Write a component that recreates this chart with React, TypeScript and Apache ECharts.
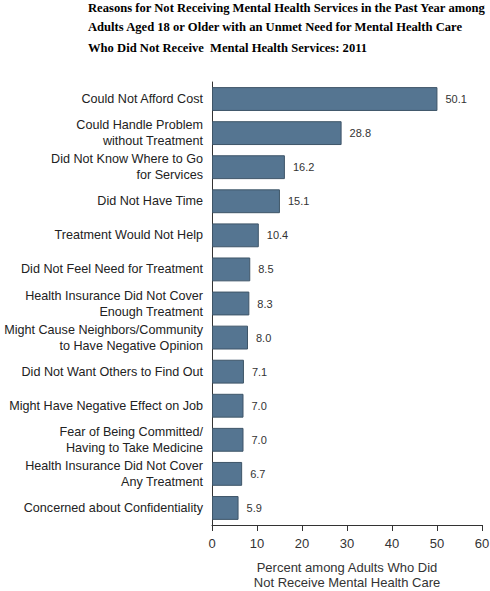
import { useEffect, useRef } from 'react';
import * as echarts from 'echarts';

const titleLines = [
  'Reasons for Not Receiving Mental Health Services in the Past Year among',
  'Adults Aged 18 or Older with an Unmet Need for Mental Health Care',
  'Who Did Not Receive  Mental Health Services: 2011',
];

const reasons = [
  'Could Not Afford Cost',
  'Could Handle Problem\nwithout Treatment',
  'Did Not Know Where to Go\nfor Services',
  'Did Not Have Time',
  'Treatment Would Not Help',
  'Did Not Feel Need for Treatment',
  'Health Insurance Did Not Cover\nEnough Treatment',
  'Might Cause Neighbors/Community\nto Have Negative Opinion',
  'Did Not Want Others to Find Out',
  'Might Have Negative Effect on Job',
  'Fear of Being Committed/\nHaving to Take Medicine',
  'Health Insurance Did Not Cover\nAny Treatment',
  'Concerned about Confidentiality',
];

const percents = [50.1, 28.8, 16.2, 15.1, 10.4, 8.5, 8.3, 8.0, 7.1, 7.0, 7.0, 6.7, 5.9];

const axisTitle = 'Percent among Adults Who Did\nNot Receive Mental Health Care';

const titleY = [8, 27, 48];

export default function App() {
  const ref = useRef<HTMLDivElement>(null);

  useEffect(() => {
    if (!ref.current) return;
    const chart = echarts.init(ref.current, undefined, { renderer: 'svg' });

    chart.setOption({
      animation: false,
      backgroundColor: '#fff',
      graphic: titleLines.map((t, i) => ({
        type: 'text',
        left: 88,
        top: titleY[i] - 7,
        style: {
          text: t,
          font: 'bold 12.6px "Liberation Serif", "Times New Roman", serif',
          fill: '#000',
        },
      })),
      grid: { left: 212, right: 8, top: 82, bottom: 66, outerBoundsMode: 'none' },
      xAxis: {
        type: 'value',
        min: 0,
        max: 60,
        interval: 10,
        name: axisTitle,
        nameLocation: 'middle',
        nameGap: 35,
        nameTextStyle: {
          fontFamily: '"Liberation Sans", Arial, sans-serif',
          fontSize: 13,
          color: '#333',
          lineHeight: 15,
        },
        axisLine: { show: true, lineStyle: { color: '#333', width: 1 } },
        axisTick: { show: true, length: 6, lineStyle: { color: '#333' } },
        axisLabel: {
          fontFamily: '"Liberation Sans", Arial, sans-serif',
          fontSize: 13,
          color: '#333',
          margin: 12,
        },
        splitLine: { show: false },
      },
      yAxis: {
        type: 'category',
        data: reasons,
        inverse: true,
        axisLine: { show: true, lineStyle: { color: '#333', width: 1 } },
        axisTick: { show: false },
        axisLabel: {
          fontFamily: '"Liberation Sans", Arial, sans-serif',
          fontSize: 12.6,
          color: '#222',
          margin: 9,
          lineHeight: 16,
          align: 'right',
        },
      },
      series: [
        {
          type: 'bar',
          data: percents,
          barCategoryGap: '30%',
          itemStyle: { color: '#557591', borderColor: '#3e5568', borderWidth: 1 },
          label: {
            show: true,
            position: 'right',
            distance: 8,
            fontFamily: '"Liberation Sans", Arial, sans-serif',
            fontSize: 11,
            color: '#333',
            formatter: (p: any) => Number(p.value).toFixed(1),
          },
        },
      ],
    });

    return () => chart.dispose();
  }, []);

  return (
    <div
      ref={ref}
      style={{ position: 'fixed', left: 0, top: 0, width: 490, height: 591 }}
    />
  );
}
